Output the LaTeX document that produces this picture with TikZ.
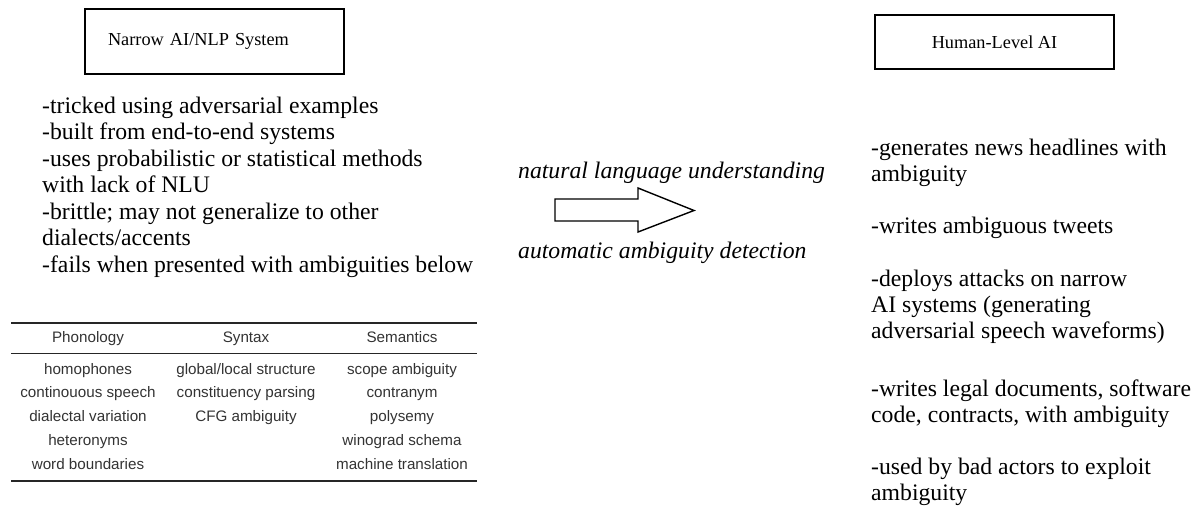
\documentclass[tikz,border=0pt]{standalone}
\usepackage{fontspec}
\setmainfont{Liberation Serif}
\newfontfamily\tabfont{Liberation Sans}
\begin{document}
\begin{tikzpicture}[x=1pt,y=-1pt,
  sysbox/.style={draw=black,line width=1.6pt,inner sep=0pt},
  boxlabel/.style={font={\fontsize{18.3}{22}\selectfont}},
  bodytext/.style={font={\fontsize{23.7}{26.5}\selectfont},align=left,inner sep=0pt,anchor=base west},
  italabel/.style={font={\fontsize{23.7}{26.5}\selectfont\itshape},inner sep=0pt,anchor=base west},
  tabtext/.style={font={\tabfont\fontsize{15.2}{23.75}\selectfont},text=black!80,align=center,inner sep=0pt,anchor=base},
  thickrule/.style={line width=1.5pt,black!85},
  thinrule/.style={line width=0.9pt,black!85}
]
\useasboundingbox (0,0) rectangle (1196,510);

% boxes
\node[sysbox,boxlabel,minimum width=259pt,minimum height=65pt,text width=213pt,align=left,inner xsep=23pt] (narrow) at (214.5,41.5) {Narrow AI/NLP System};
\node[sysbox,boxlabel,minimum width=239pt,minimum height=54pt] (human) at (994.5,42) {Human-Level AI};

% left list (anchor = baseline of last line)
\node[bodytext] (narrowlist) at (42,272.5) {-tricked using adversarial examples\\-built from end-to-end systems\\-uses probabilistic or statistical methods\\with lack of NLU\\-brittle; may not generalize to other\\dialects/accents\\-fails when presented with ambiguities below};

% right list (anchor = baseline of last line)
\node[bodytext,font={\fontsize{23.7}{26}\selectfont}] (humanlist) at (871,500.3) {-generates news headlines with\\ambiguity\\[26pt]-writes ambiguous tweets\\[27pt]-deploys attacks on narrow\\AI systems (generating\\adversarial speech waveforms)\\[32pt]-writes legal documents, software\\code, contracts, with ambiguity\\[26pt]-used by bad actors to exploit\\ambiguity};

% arrow and labels
\node[italabel] (nlu) at (518,178.3) {natural language understanding};
\node[italabel] (aad) at (518,258.3) {automatic ambiguity detection};
\draw[line width=1.4pt,line join=miter,fill=white] (555,199) -- (638,199) -- (638,188) -- (694,210.5) -- (638,232) -- (638,221) -- (555,221) -- cycle;

% table
\draw[thickrule] (11,323) -- (477,323);
\draw[thinrule] (11,353) -- (477,353);
\draw[thickrule] (11,481) -- (477,481);
\node[tabtext] (hphon) at (88,343) {Phonology};
\node[tabtext] (hsyn) at (246,343) {Syntax};
\node[tabtext] (hsem) at (402,343) {Semantics};
\node[tabtext] (cphon) at (88,469) {homophones\\continouous speech\\dialectal variation\\heteronyms\\word boundaries};
\node[tabtext] (csyn) at (246,421.5) {global/local structure\\constituency parsing\\CFG ambiguity};
\node[tabtext] (csem) at (402,469) {scope ambiguity\\contranym\\polysemy\\winograd schema\\machine translation};
\end{tikzpicture}
\end{document}
